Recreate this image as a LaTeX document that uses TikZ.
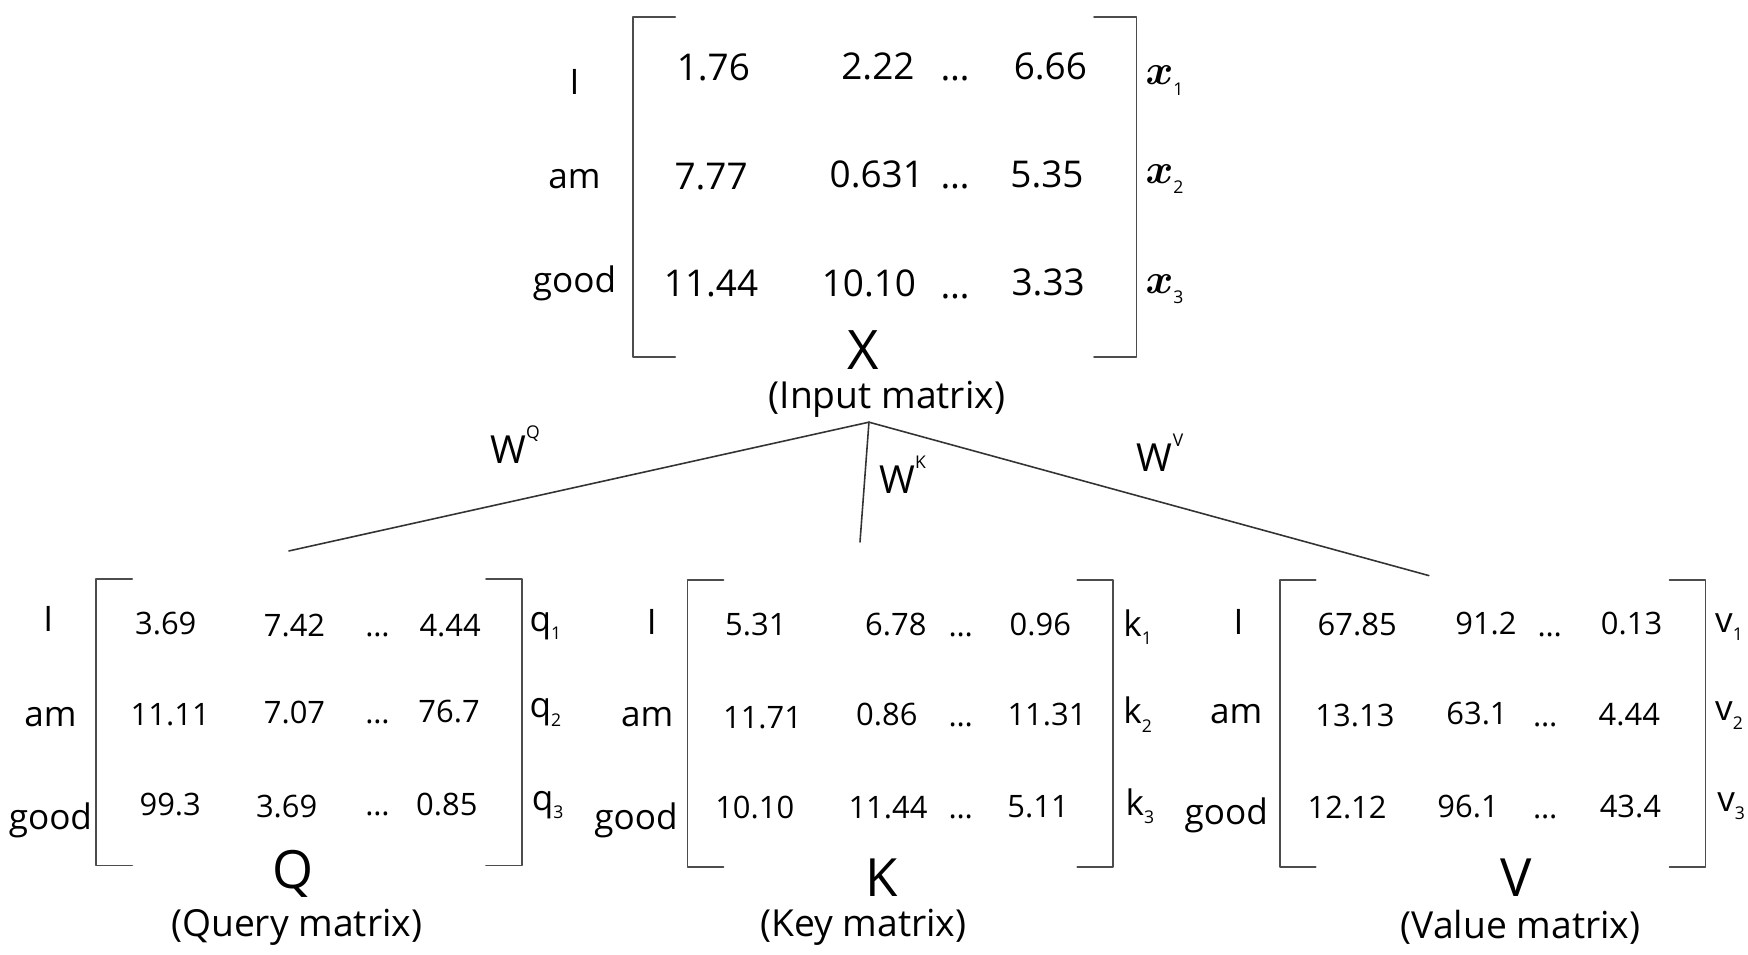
\documentclass[tikz,border=0pt]{standalone}
\usepackage{amsmath}
\usepackage{bm}
\usepackage{fontspec}
\setmainfont{Open Sans}
\usetikzlibrary{positioning}

\tikzset{
  brk/.style={color=black!70,line width=0.5pt},
  link/.style={color=black!80,line width=0.45pt},
  lab/.style={inner sep=0pt,font=\fontsize{10}{12}\selectfont},
  bignum/.style={inner sep=0pt,text height=0.714em,text depth=0pt,font=\fontsize{10.5}{12}\selectfont},
  smallnum/.style={inner sep=0pt,text height=0.714em,text depth=0pt,font=\fontsize{8.8}{10}\selectfont},
  mname/.style={inner sep=0pt,font=\fontsize{15}{17}\selectfont},
  mtitle/.style={inner sep=0pt,font=\fontsize{10.6}{12}\selectfont},
  wlab/.style={inner sep=0pt,font=\fontsize{11}{13}\selectfont}
}
\newcommand{\rowsub}[2]{#1\raisebox{-0.45ex}{\fontsize{5}{6}\selectfont #2}}
\newcommand{\wsup}[1]{W\raisebox{1.2ex}{\fontsize{5}{6}\selectfont #1}}
\newcommand{\dts}{…}

\begin{document}
\begin{tikzpicture}[line cap=round,line join=round,x=0.0112cm,y=-0.0112cm]
\useasboundingbox (0,0) rectangle (1561,852);
% brackets of the four matrices
\foreach \l/\r/\t/\b/\s in {565/1015/15/319/38,86/466/517/773/32,614/994/518/774/32,1143/1523/518/774/32}
{
\draw[brk] (\l+\s,\t) -- (\l,\t) -- (\l,\b) -- (\l+\s,\b);
\draw[brk] (\r-\s,\t) -- (\r,\t) -- (\r,\b) -- (\r-\s,\b);
}
% input matrix X
\foreach \w/\xx/\yy [count=\i] in {I/513/73,am/513/160,good/513/253}
\node[lab] (xw\i) at (\xx,\yy) {\w};
\foreach \v/\xx/\yy [count=\i] in {1.76/637/61,2.22/784/60,\dts/853/61,6.66/938/60,7.77/635/158,0.631/783/156,\dts/853/157,5.35/935/156,11.44/635/254,10.10/776/254,\dts/853/255,3.33/936/253}
\node[bignum] (xe\i) at (\xx,\yy) {\v};
\foreach \yy [count=\i] in {72,160,258}
\node[lab,font=\fontsize{12}{14}\selectfont] (xr\i) at (1040,\yy) {\rowsub{$\bm{x}$}{\i}};
\node[mname,font=\fontsize{15.5}{18}\selectfont] (X) at (771,313) {X};
\node[mtitle] (Xt) at (792,357) {(Input matrix)};
% query matrix Q
\foreach \w/\xx/\yy [count=\i] in {I/43/553,am/45/640,good/45/733}
\node[lab] (qw\i) at (\xx,\yy) {\w};
\foreach \v/\xx/\yy [count=\i] in {3.69/148/555,7.42/263/557,\dts/337/557,4.44/402/557,11.11/152/637,7.07/263/635,\dts/337/635,76.7/401/634,99.3/152/717,3.69/256/719,\dts/337/717,0.85/399/717}
\node[smallnum] (qe\i) at (\xx,\yy) {\v};
\foreach \xx/\yy [count=\i] in {487/559,487/636,489/719}
\node[lab] (qr\i) at (\xx,\yy) {\rowsub{q}{\i}};
\node[mname] (Q) at (262,780) {Q};
\node[mtitle] (Qt) at (265,828) {(Query matrix)};
% key matrix K
\foreach \w/\xx/\yy [count=\i] in {I/582/555,am/578/640,good/568/733}
\node[lab] (kw\i) at (\xx,\yy) {\w};
\foreach \v/\xx/\yy [count=\i] in {5.31/675/556,6.78/800/556,\dts/858/557,0.96/929/556,11.71/681/639,0.86/792/637,\dts/858/638,11.31/935/637,10.10/674/720,11.44/793/720,\dts/858/720,5.11/927/719}
\node[smallnum] (ke\i) at (\xx,\yy) {\v};
\foreach \xx/\yy [count=\i] in {1016/560,1016/638,1018/720}
\node[lab] (kr\i) at (\xx,\yy) {\rowsub{k}{\i}};
\node[mname] (K) at (787,784) {K};
\node[mtitle] (Kt) at (771,828) {(Key matrix)};
% value matrix V
\foreach \w/\xx/\yy [count=\i] in {I/1106/555,am/1104/638,good/1095/728}
\node[lab] (vw\i) at (\xx,\yy) {\w};
\foreach \v/\xx/\yy [count=\i] in {67.85/1212/556,91.2/1327/555,\dts/1384/557,0.13/1457/555,13.13/1210/638,63.1/1319/636,\dts/1380/638,4.44/1455/637,12.12/1203/720,96.1/1311/719,\dts/1380/720,43.4/1456/719}
\node[smallnum] (ve\i) at (\xx,\yy) {\v};
\foreach \xx/\yy [count=\i] in {1544/560,1544/639,1546/720}
\node[lab] (vr\i) at (\xx,\yy) {\rowsub{v}{\i}};
\node[mname] (V) at (1354,784) {V};
\node[mtitle] (Vt) at (1358,828) {(Value matrix)};
% projections
\coordinate (j) at (776,377);
\coordinate (qend) at (258,492);
\coordinate (kend) at (768,484);
\coordinate (vend) at (1276,514);
\draw[link] (j) -- (qend);
\draw[link] (j) -- (kend);
\draw[link] (j) -- (vend);
\node[wlab] (wq) at (460,397) {\wsup{Q}};
\node[wlab] (wk) at (806,424) {\wsup{K}};
\node[wlab] (wv) at (1036,404) {\wsup{V}};
\end{tikzpicture}
\end{document}
